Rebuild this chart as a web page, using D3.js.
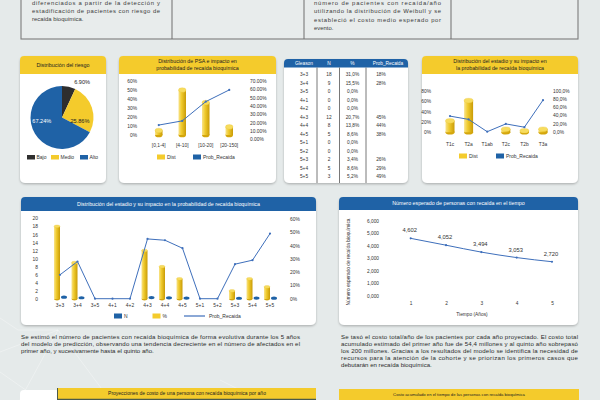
<!DOCTYPE html>
<html><head><meta charset="utf-8">
<script src="https://cdn.jsdelivr.net/npm/d3@7"></script>
<style>
html,body{margin:0;padding:0;background:#e5eaea;}
svg{display:block;font-family:"Liberation Sans",Arial,sans-serif;}
</style></head><body>
<svg id="c" width="600" height="400"></svg>
<script>
// ---------------- DATA ----------------
const riskLabels = ["Bajo", "Medio", "Alto"];
const riskValues = [6.90, 25.86, 67.24];

const psaCategories = ["[0,1-4]", "[4-10]", "[10-20]", "[20-150]"];
const psaDist = [5, 50, 36, 9];
const psaProb = [17, 22, 45, 59];
const psaLeftTicks = [0, 10, 20, 30, 40, 50, 60];
const psaRightTicks = [0, 10, 20, 30, 40, 50, 60, 70];

const gleasonCategories = ["3+3","3+4","3+5","4+1","4+2","4+3","4+4","4+5","5+1","5+2","5+3","5+4","5+5"];
const gleasonN = [18, 9, 0, 0, 0, 12, 8, 5, 0, 0, 2, 5, 3];
const gleasonPct = [31.0, 15.5, 0, 0, 0, 20.7, 13.8, 8.6, 0, 0, 3.4, 8.6, 5.2];
const gleasonProb = [18, 28, null, null, null, 45, 44, 38, null, null, 26, 29, 49];
const gleasonLeftTicks = [0, 2, 4, 6, 8, 10, 12, 14, 16, 18, 20];
const gleasonRightTicks = [0, 10, 20, 30, 40, 50, 60];

const stageCategories = ["T1c", "T2a", "T1ab", "T2c", "T2b", "T3a"];
const stageDist = [22, 61, 0, 6, 3, 6];
const stageProb = [38, 30, 0, 19, 11, 77];
const stageLeftTicks = [0, 20, 40, 60, 80];
const stageRightTicks = [0, 20, 40, 60, 80, 100];

const years = [1, 2, 3, 4, 5];
const expectedRelapses = [4.602, 4.052, 3.494, 3.053, 2.720];
const timeTicks = [0, 1, 2, 3, 4, 5, 6];

const topTextLeft = ["diferenciados a partir de la detección y", "estadificación de pacientes con riesgo de", "recaída bioquímica."];
const topTextRight = ["número de pacientes con recaída/año", "utilizando la distribución de Weibull y se", "estableció el costo medio esperado por", "evento."];
const paraLeft = ["Se estimó el número de pacientes con recaída bioquímica de forma evolutiva durante los 5 años",
  "del modelo de predicción, observando una tendencia decreciente en el número de afectados en el",
  "primer año, y sucesivamente hasta el quinto año."];
const paraRight = ["Se tasó el costo total/año de los pacientes por cada año proyectado. El costo total",
  "acumulado estimado del primer año fue de 54,4 millones y al quinto año sobrepasó",
  "los 200 millones. Gracias a los resultados del modelo se identifica la necesidad de",
  "recursos para la atención de la cohorte y se priorizan los primeros casos que",
  "debutarán en recaída bioquímica."];

// ---------------- STYLE ----------------
const YEL = "#f4cb2c", BLUE = "#1f62a6", DARK = "#2e2e2e", LINE = "#3e6fbb", TXT = "#333";
const esLocale = d3.formatLocale({decimal: ",", thousands: ".", grouping: [3], currency: ["", "€"]});
const svg = d3.select("#c");
const defs = svg.append("defs");
const f = defs.append("filter").attr("id", "sh").attr("x", "-10%").attr("y", "-10%").attr("width", "120%").attr("height", "130%");
f.append("feDropShadow").attr("dx", 0).attr("dy", 1.2).attr("stdDeviation", 1.2).attr("flood-color", "#000").attr("flood-opacity", 0.25);
const gy = defs.append("linearGradient").attr("id", "gy").attr("x1", 0).attr("x2", 1).attr("y1", 0).attr("y2", 0);
gy.append("stop").attr("offset", "0%").attr("stop-color", "#f8e38a");
gy.append("stop").attr("offset", "40%").attr("stop-color", "#f0cb2e");
gy.append("stop").attr("offset", "100%").attr("stop-color", "#c99b06");

// background decoration
const deco = svg.append("g").attr("stroke", "#fff").attr("stroke-opacity", 0.55).attr("stroke-width", 0.6).attr("fill", "none");
[[[0,352],[58,330],[20,400]],[[0,318],[18,330],[58,330]],[[58,330],[110,400]],[[0,372],[40,400]],[[220,380],[260,400]]].forEach(p=>deco.append("polyline").attr("points", p.join(" ")));

// ---------------- TOP TEXT BOX ----------------
svg.append("rect").attr("x", 21).attr("y", -6).attr("width", 557).attr("height", 45).attr("fill", "#e8ecec").attr("stroke", "#7d7d7d").attr("stroke-width", 1.1);
[172, 304, 451].forEach(x => svg.append("line").attr("x1", x).attr("x2", x).attr("y1", -6).attr("y2", 39).attr("stroke", "#6f6f6f").attr("stroke-width", 1));
function para(lines, x, w, y0, lh, fs, col) {
  lines.forEach((t, i) => {
    const el = svg.append("text").attr("x", x).attr("y", y0 + i * lh).attr("font-size", fs).attr("fill", col || "#2a2a2a").text(t);
    if (i < lines.length - 1) el.attr("textLength", w).attr("lengthAdjust", "spacing");
  });
}
para(topTextLeft, 32, 128, 5, 8.2, 5.9, "#3a3a3a");
para(topTextRight, 314, 127, 5, 8.3, 5.9, "#3a3a3a");

// ---------------- PANEL HELPER ----------------
function panel(x, y, w, h, hh, color, lines, tcol, fs) {
  const g = svg.append("g");
  g.append("rect").attr("x", x).attr("y", y).attr("width", w).attr("height", h).attr("rx", 5).attr("fill", "#fff").attr("filter", "url(#sh)");
  if (hh) {
    g.append("path").attr("d", `M${x},${y + hh}V${y + 4}Q${x},${y} ${x + 4},${y}H${x + w - 4}Q${x + w},${y} ${x + w},${y + 4}V${y + hh}Z`).attr("fill", color);
    const n = lines.length;
    lines.forEach((t, i) => g.append("text").attr("x", x + w / 2).attr("y", y + hh / 2 + (i - (n - 1) / 2) * (fs + 1.6))
      .attr("dy", "0.35em").attr("text-anchor", "middle").attr("font-size", fs).attr("fill", tcol).text(t));
  }
  return g;
}
function styleAxis(g, fs) {
  g.select(".domain").remove();
  g.selectAll("text").attr("font-size", fs).attr("fill", TXT);
}
function cylinder(g, cx, yTop, yBase, w, ry) {
  if (yBase - yTop < 0.5) return;
  g.append("ellipse").attr("cx", cx).attr("cy", yBase).attr("rx", w / 2).attr("ry", ry).attr("fill", "#d4a60c");
  g.append("rect").attr("x", cx - w / 2).attr("y", yTop).attr("width", w).attr("height", yBase - yTop).attr("fill", "url(#gy)");
  g.append("ellipse").attr("cx", cx).attr("cy", yTop).attr("rx", w / 2).attr("ry", ry).attr("fill", "#f7dc5e").attr("stroke", "#e8c232").attr("stroke-width", 0.3);
}
function legendItem(g, x, y, color, label, kind) {
  if (kind === "line") g.append("line").attr("x1", x).attr("x2", x + 21).attr("y1", y).attr("y2", y).attr("stroke", color).attr("stroke-width", 1.2);
  else g.append("rect").attr("x", x).attr("y", y - 2.5).attr("width", 8).attr("height", 5).attr("fill", color);
  g.append("text").attr("x", x + (kind === "line" ? 25 : 10)).attr("y", y).attr("dy", "0.35em").attr("font-size", 5).attr("fill", TXT).text(label);
}

// ---------------- PIE ----------------
{
  const g = panel(20, 56, 86, 127, 18, YEL, ["Distribución del riesgo"], "#222", 5.4);
  const cx = 62, cy = 117.5, r = 31.5;
  const pie = d3.pie().sort(null).value(d => d)(riskValues);
  const arc = d3.arc().innerRadius(0).outerRadius(r);
  const cols = [DARK, YEL, BLUE];
  const pg = g.append("g").attr("transform", `translate(${cx},${cy})`);
  pg.selectAll("path").data(pie).join("path").attr("d", arc).attr("fill", (d, i) => cols[i]);
  const la = d3.arc().innerRadius(r * 0.6).outerRadius(r * 0.6);
  const off = [[16, -17], [0, 10], [-4, -6]];
  pg.selectAll("text").data(pie).join("text")
    .attr("x", (d, i) => la.centroid(d)[0] + off[i][0]).attr("y", (d, i) => la.centroid(d)[1] + off[i][1])
    .attr("dy", "0.35em").attr("text-anchor", "middle").attr("font-size", 5.6)
    .attr("fill", (d, i) => i === 2 ? "#fff" : "#222").text(d => d.data.toFixed(2) + "%");
  [27, 51, 80].forEach((x, i) => {
    g.append("rect").attr("x", x).attr("y", 155).attr("width", 8).attr("height", 4.5).attr("fill", cols[i]);
    g.append("text").attr("x", x + 9.5).attr("y", 157.2).attr("dy", "0.35em").attr("font-size", 5).attr("fill", TXT).text(riskLabels[i]);
  });
}

// ---------------- PSA ----------------
{
  const g = panel(119, 56, 157, 127, 18, YEL, ["Distribución de PSA e impacto en", "probabilidad de recaída bioquímica"], "#222", 5.3);
  const x = d3.scaleBand().domain(psaCategories).range([147, 241]);
  const yL = d3.scaleLinear().domain([0, 60]).range([135, 81]);
  const yR = d3.scaleLinear().domain([0, 70]).range([139.3, 80.7]);
  g.append("g").attr("transform", "translate(137,0)").call(d3.axisLeft(yL).tickValues(psaLeftTicks).tickSize(0).tickPadding(0).tickFormat(d => d + "%")).call(a => styleAxis(a, 4.9));
  g.append("g").attr("transform", "translate(250,0)").call(d3.axisRight(yR).tickValues(psaRightTicks).tickSize(0).tickPadding(0).tickFormat(d => d.toFixed(2) + "%")).call(a => styleAxis(a, 4.9));
  g.append("g").attr("transform", "translate(0,145)").call(d3.axisBottom(x).tickSize(0).tickPadding(0)).call(a => styleAxis(a, 4.9)).selectAll("text").attr("dy", "0.35em");
  psaDist.forEach((v, i) => cylinder(g, x(psaCategories[i]) + x.bandwidth() / 2, yL(v), yL(0), 7.5, 2.3));
  const line = d3.line().x((d, i) => x(psaCategories[i]) + x.bandwidth() / 2).y(d => yR(d));
  g.append("path").attr("d", line(psaProb)).attr("fill", "none").attr("stroke", LINE).attr("stroke-width", 1);
  psaProb.forEach((v, i) => g.append("circle").attr("cx", x(psaCategories[i]) + x.bandwidth() / 2).attr("cy", yR(v)).attr("r", 1.1).attr("fill", LINE));
  legendItem(g, 157, 157, YEL, "Dist");
  legendItem(g, 193, 157, BLUE, "Prob_Recaida");
}

// ---------------- TABLE ----------------
{
  const g = panel(284, 59, 124, 124, 8.5, BLUE, [""], "#fff", 1);
  const heads = ["Gleason", "N", "%", "Prob_Recaida"];
  const cx = [304, 329, 352.5, 388];
  heads.forEach((h, i) => g.append("text").attr("x", cx[i]).attr("y", 63.4).attr("dy", "0.35em").attr("text-anchor", "middle").attr("font-size", 4.8).attr("fill", "#fff").text(h));
  [317, 339.5, 366].forEach(x => g.append("line").attr("x1", x).attr("x2", x).attr("y1", 67.5).attr("y2", 183).attr("stroke", "#555").attr("stroke-width", 0.8));
  const ry = d3.scaleLinear().domain([0, 12]).range([74.3, 176.7]);
  gleasonCategories.forEach((c, i) => {
    const row = [c, String(gleasonN[i]), esLocale.format(".1f")(gleasonPct[i]) + "%", gleasonProb[i] == null ? "" : gleasonProb[i] + "%"];
    const xs = [304, 329, 352.5, 381];
    row.forEach((t, j) => g.append("text").attr("x", xs[j]).attr("y", ry(i)).attr("dy", "0.35em").attr("text-anchor", "middle").attr("font-size", 4.8).attr("fill", TXT).text(t));
  });
}

// ---------------- STAGE ----------------
{
  const g = panel(422, 56, 156, 127, 18, YEL, ["Distribución del estadio y su impacto en", "la probabilidad de recaída bioquímica"], "#222", 5.3);
  const x = d3.scaleBand().domain(stageCategories).range([440.7, 552.3]);
  const yL = d3.scaleLinear().domain([0, 80]).range([132.3, 90.7]);
  const yR = d3.scaleLinear().domain([0, 100]).range([131.7, 90.7]);
  const f1 = esLocale.format(".1f");
  g.append("g").attr("transform", "translate(431,0)").call(d3.axisLeft(yL).tickValues(stageLeftTicks).tickSize(0).tickPadding(0).tickFormat(d => d + "%")).call(a => styleAxis(a, 4.9));
  g.append("g").attr("transform", "translate(553,0)").call(d3.axisRight(yR).tickValues(stageRightTicks).tickSize(0).tickPadding(0).tickFormat(d => f1(d) + "%")).call(a => styleAxis(a, 4.9));
  g.append("g").attr("transform", "translate(0,144)").call(d3.axisBottom(x).tickSize(0).tickPadding(0)).call(a => styleAxis(a, 4.9)).selectAll("text").attr("dy", "0.35em");
  const c = d => x(d) + x.bandwidth() / 2;
  stageDist.forEach((v, i) => cylinder(g, c(stageCategories[i]), yL(v), yL(0), 9, 2.3));
  const line = d3.line().x((d, i) => c(stageCategories[i])).y(d => yR(d));
  g.append("path").attr("d", line(stageProb)).attr("fill", "none").attr("stroke", LINE).attr("stroke-width", 1);
  stageProb.forEach((v, i) => g.append("circle").attr("cx", c(stageCategories[i])).attr("cy", yR(v)).attr("r", 1.1).attr("fill", LINE));
  legendItem(g, 459, 156, YEL, "Dist");
  legendItem(g, 496, 156, BLUE, "Prob_Recaida");
}

// ---------------- GLEASON CHART ----------------
{
  const g = panel(21, 197, 295, 128, 14, BLUE, ["Distribución del estadio y su impacto en la probabilidad de recaída bioquímica"], "#fff", 5.3);
  const x = d3.scaleBand().domain(gleasonCategories).range([51.25, 278.75]);
  const yL = d3.scaleLinear().domain([0, 20]).range([299, 218.3]);
  const yR = d3.scaleLinear().domain([0, 60]).range([298.7, 219]);
  g.append("g").attr("transform", "translate(38,0)").call(d3.axisLeft(yL).tickValues(gleasonLeftTicks).tickSize(0).tickPadding(0)).call(a => styleAxis(a, 4.9));
  g.append("g").attr("transform", "translate(290,0)").call(d3.axisRight(yR).tickValues(gleasonRightTicks).tickSize(0).tickPadding(0).tickFormat(d => d + "%")).call(a => styleAxis(a, 4.9));
  g.append("g").attr("transform", "translate(0,305)").call(d3.axisBottom(x).tickSize(0).tickPadding(0)).call(a => styleAxis(a, 4.9)).selectAll("text").attr("dy", "0.35em");
  const c = d => x(d) + x.bandwidth() / 2;
  gleasonN.forEach((v, i) => cylinder(g, c(gleasonCategories[i]) - 3, yL(v), yL(0), 6, 1.4));
  gleasonPct.forEach((v, i) => { if (v > 0) g.append("ellipse").attr("cx", c(gleasonCategories[i]) + 4).attr("cy", yL(v / 100) - 0.6).attr("rx", 3).attr("ry", 1.6).attr("fill", BLUE); });
  const line = d3.line().x((d, i) => c(gleasonCategories[i])).y(d => yR(d == null ? 0 : d));
  g.append("path").attr("d", line(gleasonProb)).attr("fill", "none").attr("stroke", LINE).attr("stroke-width", 1);
  gleasonProb.forEach((v, i) => g.append("circle").attr("cx", c(gleasonCategories[i])).attr("cy", yR(v == null ? 0 : v)).attr("r", 1.1).attr("fill", LINE));
  legendItem(g, 114, 316, BLUE, "N");
  legendItem(g, 152.5, 316, YEL, "%");
  legendItem(g, 184, 316, LINE, "Prob_Recaida", "line");
}

// ---------------- TIME CHART ----------------
{
  const g = panel(339, 197, 239, 128, 13, BLUE, ["Número esperado de personas con recaída en el tiempo"], "#fff", 5.3);
  const x = d3.scalePoint().domain(years).range([410.7, 552]);
  const y = d3.scaleLinear().domain([0, 6]).range([295.5, 221]);
  const f3 = esLocale.format(".3f");
  g.append("g").attr("transform", "translate(379,0)").call(d3.axisLeft(y).tickValues(timeTicks).tickSize(0).tickPadding(0).tickFormat(f3)).call(a => styleAxis(a, 4.8));
  g.append("g").attr("transform", "translate(0,303)").call(d3.axisBottom(x).tickSize(0).tickPadding(0)).call(a => styleAxis(a, 4.8)).selectAll("text").attr("dy", "0.35em");
  g.append("text").attr("transform", "translate(348,262) rotate(-90)").attr("text-anchor", "middle").attr("dy", "0.35em").attr("font-size", 4.8).attr("fill", TXT).text("Número esperado de recaída bioquímica");
  g.append("text").attr("x", 472).attr("y", 314.7).attr("dy", "0.35em").attr("text-anchor", "middle").attr("font-size", 4.8).attr("fill", TXT).text("Tiempo (Años)");
  const line = d3.line().x((d, i) => x(years[i])).y(d => y(d)).curve(d3.curveMonotoneX);
  g.append("path").attr("d", line(expectedRelapses)).attr("fill", "none").attr("stroke", LINE).attr("stroke-width", 1);
  expectedRelapses.forEach((v, i) => {
    g.append("circle").attr("cx", x(years[i])).attr("cy", y(v)).attr("r", 1.1).attr("fill", LINE);
    g.append("text").attr("x", x(years[i]) - 1).attr("y", y(v) - 6).attr("text-anchor", "middle").attr("font-size", 5.8).attr("fill", TXT).text(f3(v));
  });
}

// ---------------- PARAGRAPHS ----------------
para(paraLeft, 21, 279, 338.5, 7, 6.1);
para(paraRight, 341, 237, 338.5, 7, 6.1);

// ---------------- BOTTOM HEADERS ----------------
svg.append("rect").attr("x", 20).attr("y", 390).attr("width", 40).attr("height", 20).attr("rx", 4).attr("fill", "#fff");
svg.append("rect").attr("x", 57).attr("y", 388).attr("width", 259).attr("height", 11).attr("fill", YEL);
svg.append("line").attr("x1", 57).attr("x2", 316).attr("y1", 399.3).attr("y2", 399.3).attr("stroke", "#4b5a4a").attr("stroke-width", 1.2);
svg.append("line").attr("x1", 57.5).attr("x2", 57.5).attr("y1", 388).attr("y2", 400).attr("stroke", "#4b5a4a").attr("stroke-width", 1);
svg.append("text").attr("x", 187).attr("y", 393.5).attr("dy", "0.35em").attr("text-anchor", "middle").attr("font-size", 5).attr("fill", "#222").text("Proyecciones de costo de una persona con recaída bioquímica por año");
svg.append("rect").attr("x", 339).attr("y", 389).attr("width", 240).attr("height", 12).attr("fill", YEL);
svg.append("text").attr("x", 459).attr("y", 394.5).attr("dy", "0.35em").attr("text-anchor", "middle").attr("font-size", 4.2).attr("fill", "#222").text("Costo acumulado en el tiempo de las personas con recaída bioquímica");
</script>
</body></html>
